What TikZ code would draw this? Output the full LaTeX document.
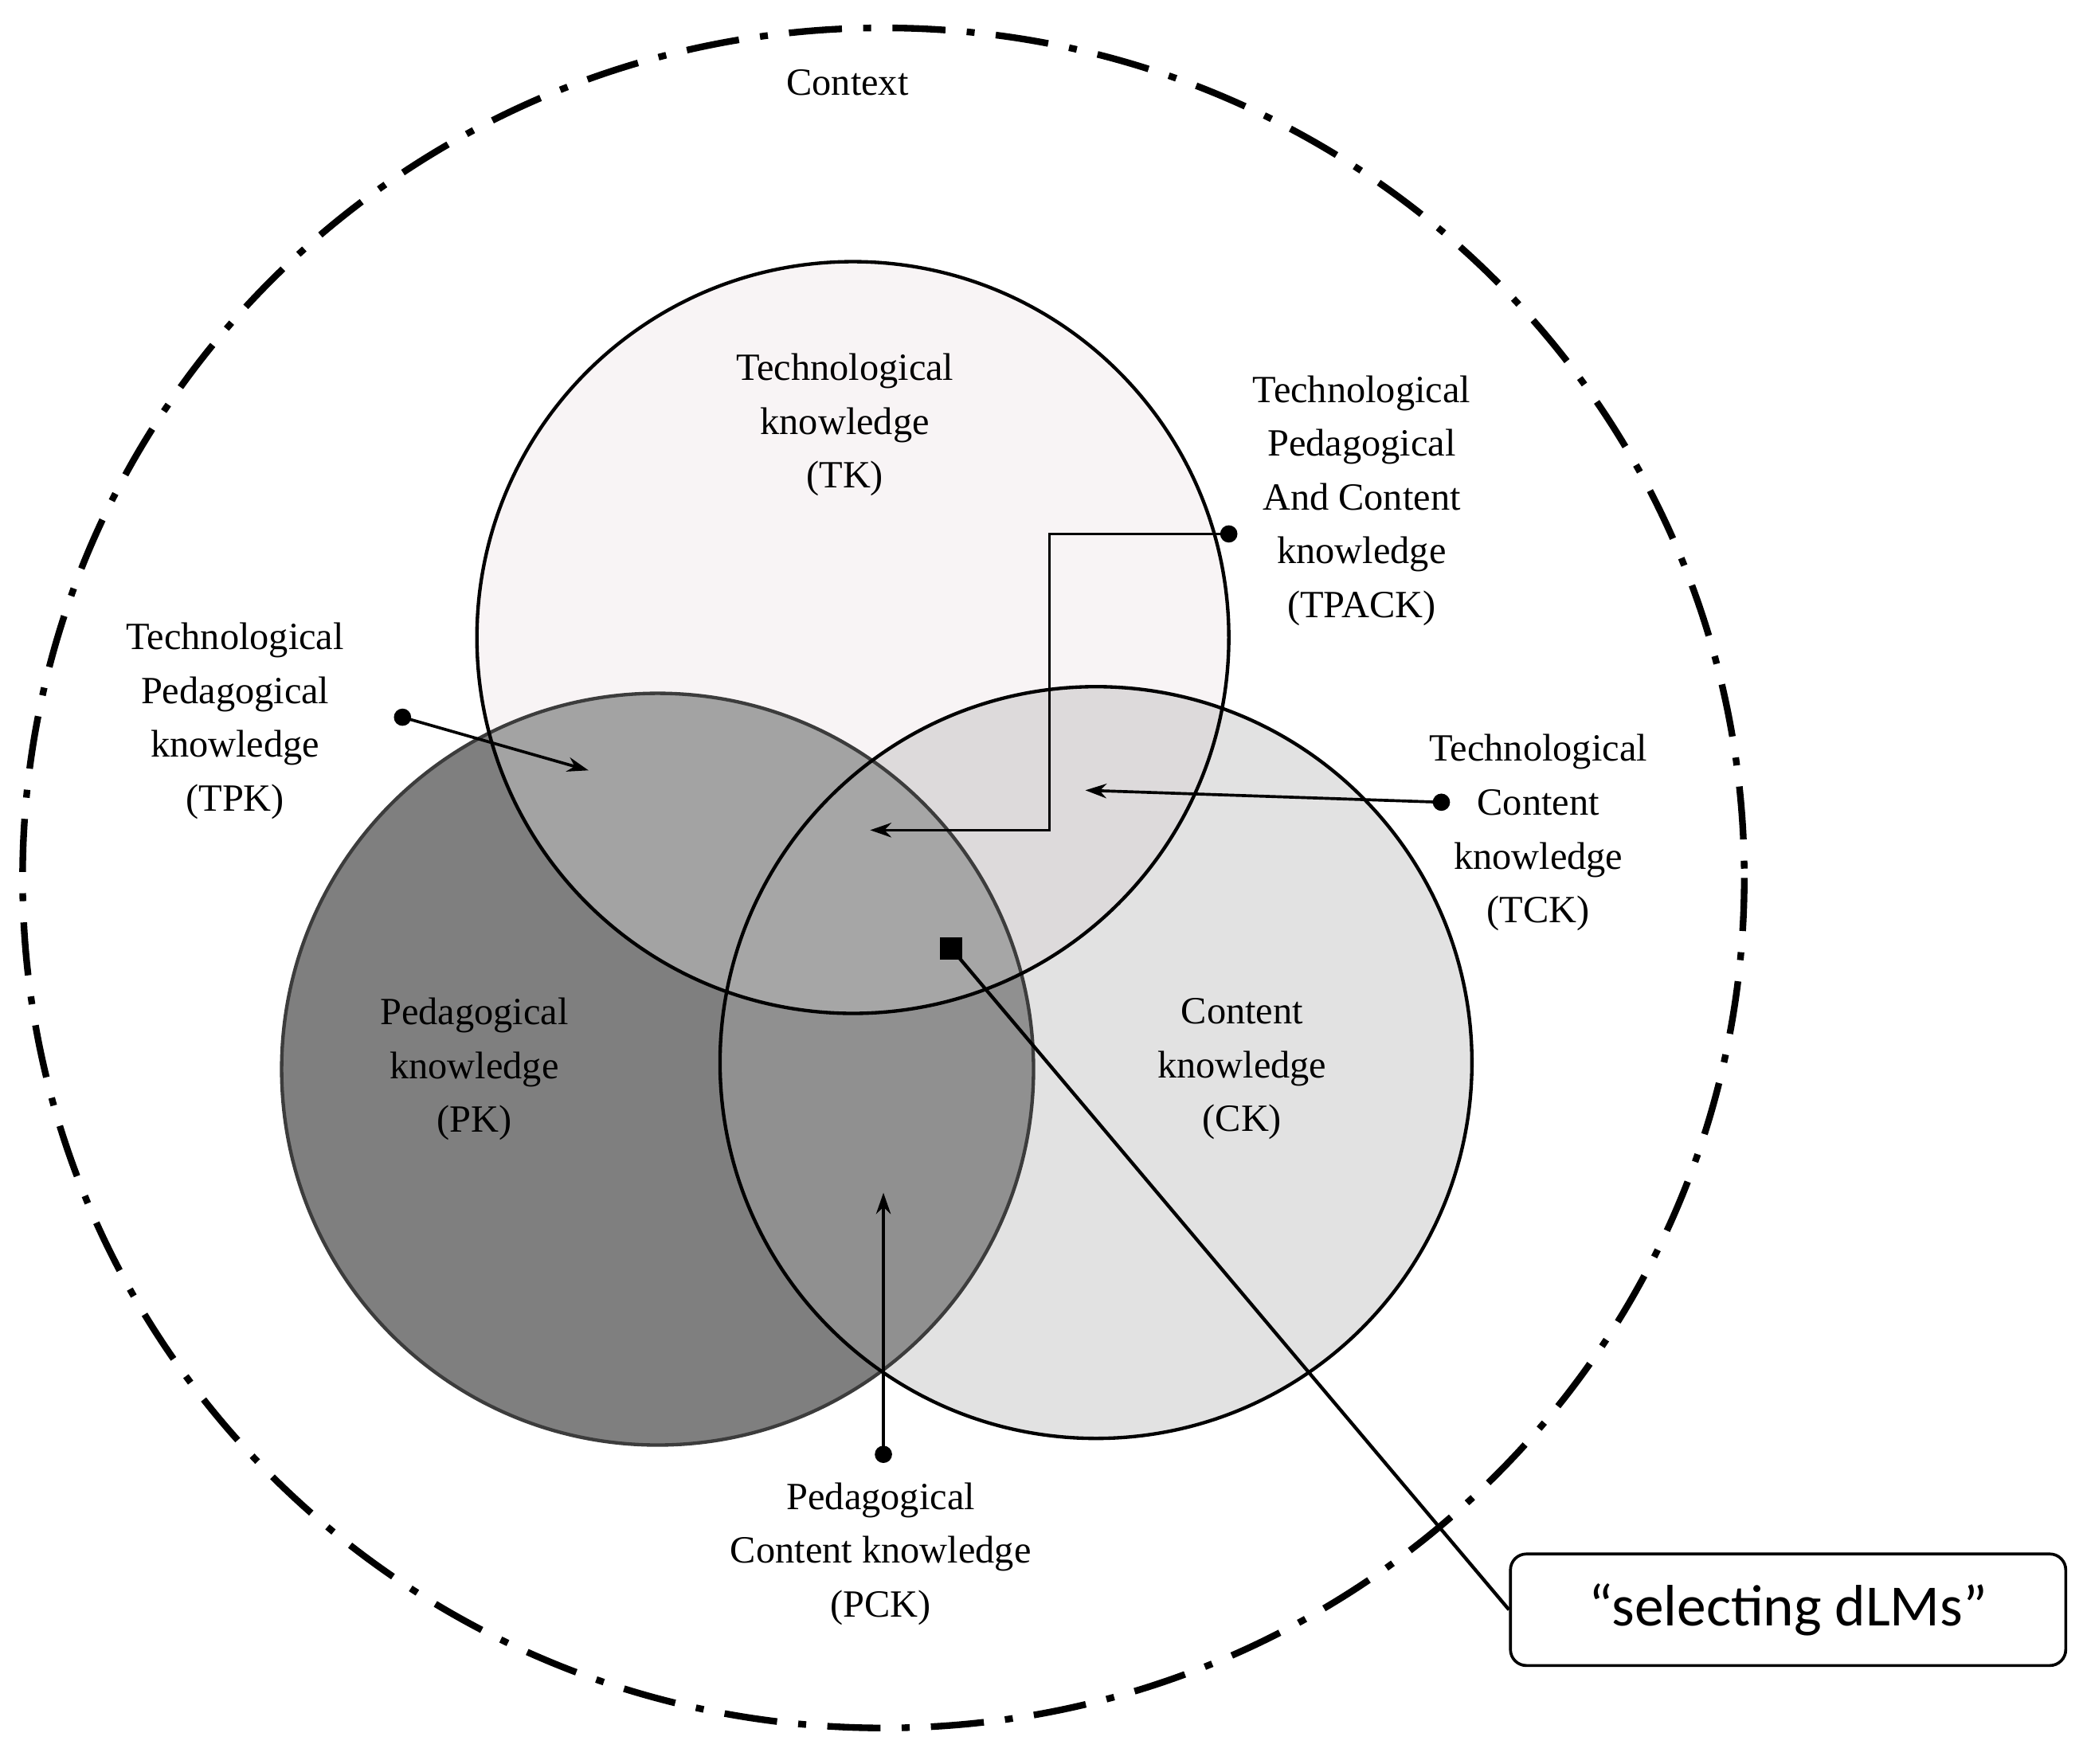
\documentclass[tikz,border=0pt]{standalone}
\usepackage{fontspec}
\usetikzlibrary{arrows.meta}
\setmainfont{Liberation Serif}
\newfontfamily\boxfont{Carlito}
\begin{document}
\begin{tikzpicture}[x=1pt,y=-1pt,
  lbl/.style={align=center,font=\fontsize{29}{40.5}\selectfont},
  dot/.style={circle,fill=black,inner sep=0pt,minimum size=13pt},
  arr/.style={line width=2.2pt,-{Stealth[length=16pt,width=11pt]}},
  circ/.style={line width=2.6pt}]
\useasboundingbox (0,0) rectangle (1568,1328);
\def\TK{(642,480) circle (283)}
\def\PK{(495,805) circle (283)}
\def\CK{(825,800) circle (283)}
% fills
\fill[fill={rgb,255:red,248;green,244;blue,245}] \TK;
\fill[fill={rgb,255:red,127;green,127;blue,127}] \PK;
\fill[fill={rgb,255:red,226;green,226;blue,226}] \CK;
\begin{scope}\clip \TK; \fill[fill={rgb,255:red,163;green,163;blue,163}] \PK; \end{scope}
\begin{scope}\clip \TK; \fill[fill={rgb,255:red,221;green,218;blue,219}] \CK; \end{scope}
\begin{scope}\clip \PK; \fill[fill={rgb,255:red,144;green,144;blue,144}] \CK; \end{scope}
\begin{scope}\clip \TK; \clip \PK; \fill[fill={rgb,255:red,166;green,166;blue,166}] \CK; \end{scope}
\draw[circ,draw={rgb,255:red,60;green,60;blue,60}] \PK;
\draw[circ] \TK;
\draw[circ] \CK;
% outer context
\draw[line width=5pt,dash pattern=on 40pt off 16pt on 6pt off 16pt] (665,661) ellipse (648 and 640);
% labels
\node[lbl] (ctx) at (638,62) {Context};
\node[lbl] (tk) at (636,320) {Technological\\knowledge\\(TK)};
\node[lbl] (pk) at (357,805) {Pedagogical\\knowledge\\(PK)};
\node[lbl] (ck) at (935,805) {Content\\knowledge\\(CK)};
\node[lbl] (tpack) at (1025,377) {Technological\\Pedagogical\\And Content\\knowledge\\(TPACK)};
\node[lbl] (tpk) at (177,543) {Technological\\Pedagogical\\knowledge\\(TPK)};
\node[lbl] (tck) at (1158,627) {Technological\\Content\\knowledge\\(TCK)};
\node[lbl] (pck) at (663,1170) {Pedagogical\\Content knowledge\\(PCK)};
% connectors
\node[dot] (d1) at (925,402) {};
\coordinate (e1) at (655,625);
\draw[arr] (d1.center) -- (790,402) -- (790,625) -- (e1);
\node[dot] (d2) at (303,540) {};
\coordinate (e2) at (443,580);
\draw[arr] (d2.center) -- (e2);
\node[dot] (d3) at (1085,604) {};
\coordinate (e3) at (817,595);
\draw[arr] (d3.center) -- (e3);
\node[dot] (d4) at (665,1095) {};
\coordinate (e4) at (665,898);
\draw[arr] (d4.center) -- (e4);
\node[draw,fill=white,rounded corners=12pt,line width=2.2pt,minimum width=418pt,minimum height=84pt,font=\boxfont\fontsize{44}{50}\selectfont] (box) at (1346,1212) {“selecting dLMs”};
\node[fill=black,minimum size=17pt,inner sep=0pt] (sq) at (716,714) {};
\draw[line width=2.6pt] (sq.center) -- (box.west);
\end{tikzpicture}
\end{document}
